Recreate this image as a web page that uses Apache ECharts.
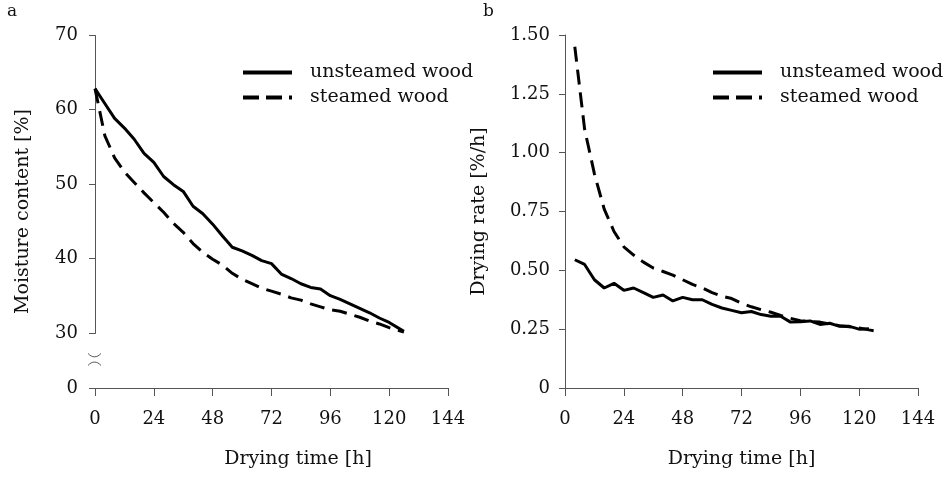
<!DOCTYPE html>
<html>
<head>
<meta charset="utf-8">
<script src="https://cdn.jsdelivr.net/npm/echarts@6/dist/echarts.min.js"></script>
<style>html,body{margin:0;padding:0;background:#fff;}#c{width:950px;height:482px;}</style>
</head>
<body>
<div id="c"></div>
<script>
// Panel a: moisture content [%] vs drying time [h]
const timeMoisture = [0,4,8,12,16,20,24,28,32,36,40,44,48,52,56,60,64,68,72,76,80,84,88,92,96,100,104,108,112,116,120,126];
const moistureUnsteamed = [62.8,60.8,58.8,57.5,56.0,54.1,52.9,51.0,49.9,49.0,47.0,46.0,44.6,43.0,41.5,41.0,40.4,39.7,39.3,37.9,37.3,36.6,36.1,35.9,35.0,34.5,33.9,33.3,32.7,32.0,31.4,30.2];
const moistureSteamed   = [62.8,56.5,53.5,51.6,50.2,48.8,47.5,46.2,44.7,43.5,42.0,40.8,39.9,39.1,38.0,37.2,36.6,36.0,35.6,35.2,34.7,34.4,33.9,33.5,33.1,32.9,32.5,32.1,31.6,31.2,30.7,30.1];
// Panel b: drying rate [%/h] vs drying time [h]
const timeRateUnsteamed = [4,8,12,16,20,24,28,32,36,40,44,48,52,56,60,64,68,72,76,80,84,88,92,96,100,104,108,112,116,120,124];
const rateUnsteamed = [0.545,0.525,0.46,0.425,0.445,0.415,0.425,0.405,0.385,0.395,0.37,0.385,0.375,0.375,0.355,0.34,0.33,0.32,0.325,0.312,0.305,0.305,0.28,0.282,0.285,0.27,0.275,0.262,0.262,0.25,0.252];
const timeRateSteamed = [4,8,12,16,20,24,28,32,36,40,44,48,52,56,60,64,68,72,76,80,84,88,92,96,100,104,108,112,116,120,124,128];
const rateSteamed = [1.45,1.10,0.91,0.76,0.665,0.60,0.565,0.535,0.51,0.495,0.48,0.46,0.44,0.425,0.405,0.39,0.38,0.36,0.345,0.333,0.322,0.308,0.296,0.286,0.283,0.28,0.272,0.265,0.26,0.255,0.247,0.24];
const seriesNames = ['unsteamed wood','steamed wood'];
const xTicks = {min:0, max:144, interval:24};
// broken section of the moisture axis
const moistureBreak = {start:0, end:30};

const zip = (xs, ys) => xs.map((x,i)=>[x, ys[i]]);
const FONT = 'DejaVu Serif';
const axisCol = '#555';
const txtCol = '#111';
const ICON_SOLID = 'path://M0,0h49v4h-49z';
const ICON_DASH = 'path://M0,0h16v4h-16zM23,0h16v4h-16zM46,0h3v4h-3z';

function xAxis(gridIndex, padLeft){
  return {
    type:'value', gridIndex, min:xTicks.min, max:xTicks.max, interval:xTicks.interval,
    name:'Drying time [h]', nameLocation:'middle', nameGap:62,
    nameTextStyle:{fontFamily:FONT, fontSize:19, color:txtCol, padding:[0,0,0,padLeft]},
    axisLine:{show:true, onZero:false, lineStyle:{color:axisCol, width:1}},
    axisTick:{show:true, inside:false, length:8, lineStyle:{color:axisCol}},
    axisLabel:{fontFamily:FONT, fontSize:18, color:txtCol, margin:22},
    splitLine:{show:false}
  };
}
function legend(left){
  return {left, top:63, padding:0, orient:'vertical', itemWidth:49, itemHeight:4, itemGap:6,
    data:[{name:seriesNames[0], icon:ICON_SOLID},{name:seriesNames[1], icon:ICON_DASH}],
    textStyle:{fontFamily:FONT, fontSize:19, color:txtCol, padding:[0,0,0,13], lineHeight:19},
    selectedMode:false};
}
const dash = [15,8];
const option = {
  animation:false,
  backgroundColor:'#fff',
  textStyle:{fontFamily:FONT},
  legend:[legend(243), legend(713)],
  grid:[
    {left:95, right:502, top:35, bottom:94},
    {left:565, right:32, top:35, bottom:94}
  ],
  xAxis:[xAxis(0,53), xAxis(1,0)],
  yAxis:[
    {type:'value', gridIndex:0, min:0, max:70, interval:10,
     breaks:[{start:moistureBreak.start, end:moistureBreak.end, gap:7.4}],
     breakArea:{show:false},
     name:'Moisture content [%]', nameLocation:'middle', nameGap:62,
     nameTextStyle:{fontFamily:FONT, fontSize:19, color:txtCol},
     axisLine:{show:true, lineStyle:{color:axisCol, width:1}},
     axisTick:{show:true, inside:false, length:6, lineStyle:{color:axisCol}},
     axisLabel:{fontFamily:FONT, fontSize:18, color:txtCol, margin:17},
     splitLine:{show:false}},
    {type:'value', gridIndex:1, min:0, max:1.5, interval:0.25,
     name:'Drying rate [%/h]', nameLocation:'middle', nameGap:76,
     nameTextStyle:{fontFamily:FONT, fontSize:19, color:txtCol},
     axisLine:{show:true, lineStyle:{color:axisCol, width:1}},
     axisTick:{show:true, inside:false, length:6, lineStyle:{color:axisCol}},
     axisLabel:{fontFamily:FONT, fontSize:18, color:txtCol, margin:15,
       formatter:v => v===0 ? '0' : v.toFixed(2)},
     splitLine:{show:false}}
  ],
  series:[
    {name:seriesNames[0], type:'line', xAxisIndex:0, yAxisIndex:0, data:zip(timeMoisture, moistureUnsteamed),
     symbol:'none', lineStyle:{color:'#000', width:3, type:'solid'}, itemStyle:{color:'#000'}},
    {name:seriesNames[1], type:'line', xAxisIndex:0, yAxisIndex:0, data:zip(timeMoisture, moistureSteamed),
     symbol:'none', lineStyle:{color:'#000', width:3, type:dash}, itemStyle:{color:'#000'}},
    {name:seriesNames[0], type:'line', xAxisIndex:1, yAxisIndex:1, data:zip(timeRateUnsteamed, rateUnsteamed),
     symbol:'none', lineStyle:{color:'#000', width:3, type:'solid'}, itemStyle:{color:'#000'}},
    {name:seriesNames[1], type:'line', xAxisIndex:1, yAxisIndex:1, data:zip(timeRateSteamed, rateSteamed),
     symbol:'none', lineStyle:{color:'#000', width:3, type:dash}, itemStyle:{color:'#000'}}
  ]
};
const chart = echarts.init(document.getElementById('c'), null, {renderer:'canvas'});
chart.setOption(option);

// axis-break marks on the moisture axis, placed from the axis scale
const ax = chart.convertToPixel({xAxisIndex:0}, 0);
const yLo = chart.convertToPixel({yAxisIndex:0}, moistureBreak.start);
const yHi = chart.convertToPixel({yAxisIndex:0}, moistureBreak.end);
const mid = (yLo + yHi) / 2 - 1;
const h = 4.5;
function arc(y, dir){
  // dir=+1: bowing downward (upper mark), dir=-1: bowing upward (lower mark)
  return {type:'bezierCurve', z:100,
    shape:{x1:ax - 7, y1:y - dir*1.5, x2:ax + 6, y2:y - dir*1.5, cpx1:ax - 3, cpy1:y + dir*3, cpx2:ax + 2, cpy2:y + dir*3},
    style:{stroke:axisCol, lineWidth:1, fill:null}};
}
chart.setOption({graphic:[
  {type:'text', left:7, top:3, style:{text:'a', fontFamily:FONT, fontSize:17, fill:txtCol}},
  {type:'text', left:483, top:3, style:{text:'b', fontFamily:FONT, fontSize:17, fill:txtCol}},
  {type:'rect', z:99, shape:{x:ax - 3, y:mid - h + 1, width:6, height:2*h - 2}, style:{fill:'#fff'}},
  arc(mid - h, 1), arc(mid + h, -1)
]});
</script>
</body>
</html>
